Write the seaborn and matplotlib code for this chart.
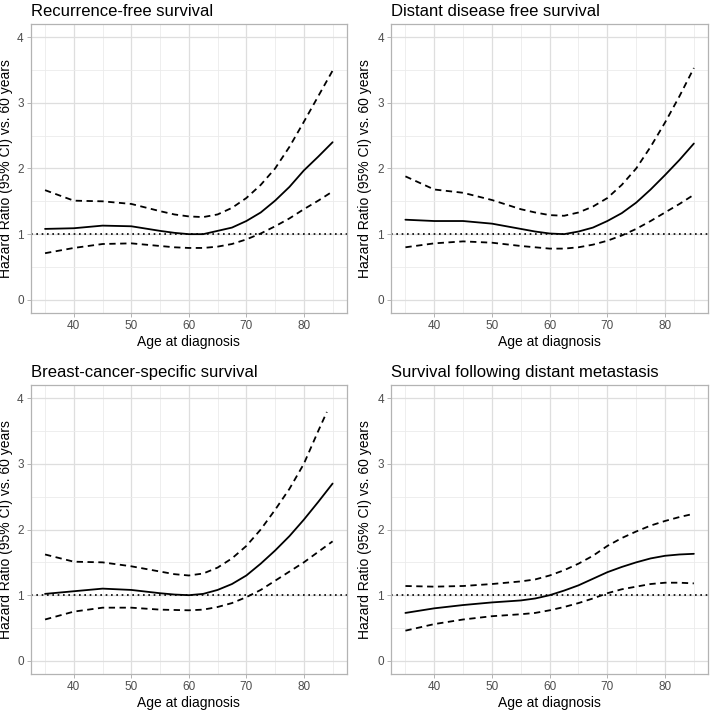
import numpy as np
import pandas as pd
import matplotlib
matplotlib.use("Agg")
import matplotlib.pyplot as plt
import seaborn as sns

# ---- data ----
titles = ["Recurrence-free survival", "Distant disease free survival",
          "Breast-cancer-specific survival", "Survival following distant metastasis"]

age = [35, 40, 45, 50, 55, 57.5, 60, 62.5, 65, 67.5, 70, 72.5, 75, 77.5, 80, 82.5, 85]

rfs_hr = [1.08, 1.09, 1.13, 1.12, 1.05, 1.02, 1.00, 1.00, 1.05, 1.10, 1.20, 1.33, 1.51, 1.72, 1.97, 2.18, 2.40]
rfs_hi = [1.67, 1.51, 1.50, 1.46, 1.35, 1.30, 1.27, 1.26, 1.30, 1.40, 1.55, 1.75, 2.00, 2.33, 2.71, 3.10, 3.49]
rfs_lo = [0.71, 0.79, 0.85, 0.86, 0.82, 0.80, 0.79, 0.79, 0.81, 0.85, 0.92, 1.01, 1.12, 1.24, 1.38, 1.51, 1.65]

ddfs_hr = [1.22, 1.20, 1.20, 1.16, 1.08, 1.04, 1.01, 1.00, 1.04, 1.10, 1.20, 1.32, 1.48, 1.68, 1.90, 2.13, 2.38]
ddfs_hi = [1.88, 1.68, 1.63, 1.52, 1.38, 1.33, 1.29, 1.28, 1.33, 1.42, 1.55, 1.75, 2.00, 2.33, 2.70, 3.10, 3.53]
ddfs_lo = [0.80, 0.86, 0.89, 0.87, 0.82, 0.80, 0.78, 0.78, 0.80, 0.84, 0.90, 0.98, 1.08, 1.20, 1.33, 1.46, 1.60]

bcss_hr = [1.02, 1.06, 1.10, 1.08, 1.03, 1.01, 1.00, 1.02, 1.08, 1.17, 1.30, 1.48, 1.68, 1.90, 2.15, 2.42, 2.70]
bcss_hi = [1.62, 1.51, 1.50, 1.44, 1.36, 1.32, 1.30, 1.33, 1.42, 1.56, 1.75, 2.00, 2.30, 2.62, 3.00, 3.50, 3.79]
bcss_lo = [0.63, 0.75, 0.81, 0.81, 0.78, 0.775, 0.77, 0.78, 0.82, 0.88, 0.97, 1.08, 1.22, 1.36, 1.50, 1.66, 1.82]

sfdm_hr = [0.73, 0.80, 0.85, 0.89, 0.92, 0.95, 1.00, 1.07, 1.15, 1.25, 1.35, 1.43, 1.50, 1.56, 1.60, 1.62, 1.63]
sfdm_hi = [1.14, 1.13, 1.14, 1.17, 1.21, 1.24, 1.30, 1.38, 1.48, 1.60, 1.75, 1.87, 1.97, 2.06, 2.13, 2.19, 2.24]
sfdm_lo = [0.46, 0.56, 0.63, 0.68, 0.71, 0.73, 0.77, 0.82, 0.88, 0.95, 1.03, 1.09, 1.13, 1.17, 1.19, 1.19, 1.18]

# upper CI of BCSS ends at 84 in the reference
bcss_hi_age = age[:-1] + [84]

series = [
    (age, rfs_hr, age, rfs_hi, age, rfs_lo),
    (age, ddfs_hr, age, ddfs_hi, age, ddfs_lo),
    (age, bcss_hr, bcss_hi_age, bcss_hi, age, bcss_lo),
    (age, sfdm_hr, age, sfdm_hi, age, sfdm_lo),
]

x_ticks = [40, 50, 60, 70, 80]
y_ticks = [0, 1, 2, 3, 4]

sns.set_theme(style="white")
plt.rcParams["font.family"] = ["Liberation Sans", "DejaVu Sans"]

fig = plt.figure(figsize=(7.1, 7.1), dpi=100)
positions = [
    [0.0432, 0.5592, 0.4455, 0.4070],
    [0.5507, 0.5592, 0.4469, 0.4070],
    [0.0432, 0.0507, 0.4455, 0.4070],
    [0.5507, 0.0507, 0.4469, 0.4070],
]
ylab_x = [-0.056, -0.060, -0.056, -0.060]

for i, (title, s, pos) in enumerate(zip(titles, series, positions)):
    ax = fig.add_axes(pos)
    xa, hr, xh, hi, xl, lo = s
    frames = [
        pd.DataFrame({"age": xa, "val": hr, "kind": "HR"}),
        pd.DataFrame({"age": xh, "val": hi, "kind": "upper"}),
        pd.DataFrame({"age": xl, "val": lo, "kind": "lower"}),
    ]
    df = pd.concat(frames, ignore_index=True)

    ax.set_xlim(32.5, 87.5)
    ax.set_ylim(-0.2, 4.2)
    ax.set_xticks(x_ticks)
    ax.set_yticks(y_ticks)
    ax.set_xticks([35, 45, 55, 65, 75, 85], minor=True)
    ax.set_yticks([0.5, 1.5, 2.5, 3.5], minor=True)
    ax.grid(True, which="major", color="#DEDEDE", lw=0.9)
    ax.grid(True, which="minor", color="#EBEBEB", lw=0.6)
    ax.set_axisbelow(True)

    ax.axhline(1, color="black", lw=1.2, ls=(0, (1, 2.2)), zorder=2)

    sns.lineplot(data=df[df.kind == "HR"], x="age", y="val", ax=ax,
                 color="black", lw=1.3, sort=False, estimator=None, zorder=3)
    for k in ["upper", "lower"]:
        sns.lineplot(data=df[df.kind == k], x="age", y="val", ax=ax,
                     color="black", lw=1.3, sort=False, estimator=None,
                     zorder=3, dashes=False, linestyle=(0, (3.5, 2.5)))

    for sp in ax.spines.values():
        sp.set_color("#B3B3B3")
        sp.set_linewidth(0.9)
        sp.set_visible(True)

    ax.tick_params(axis="both", which="major", length=3, width=0.7,
                   color="#B3B3B3", labelsize=8.5, labelcolor="#4D4D4D", pad=2,
                   bottom=True, left=True)
    ax.tick_params(axis="both", which="minor", length=0)

    ax.set_xlabel("Age at diagnosis", fontsize=10, color="black", labelpad=2)
    ax.set_ylabel("Hazard Ratio (95% CI) vs. 60 years", fontsize=10,
                  color="black")
    ax.yaxis.set_label_coords(ylab_x[i], 0.5)
    ax.set_title(title, fontsize=12, loc="left", color="black", pad=6)

fig.savefig("out.png", dpi=100)
